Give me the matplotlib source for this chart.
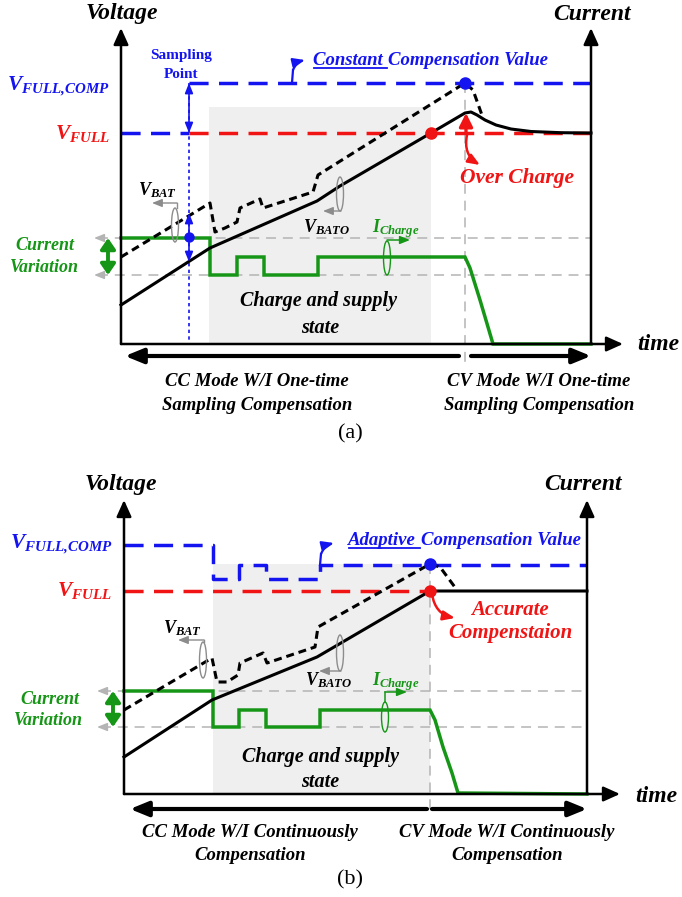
import matplotlib
matplotlib.use("Agg")
import matplotlib.pyplot as plt
from matplotlib.patches import FancyArrowPatch, Ellipse, Rectangle

plt.rcParams["font.family"] = ["Liberation Serif", "DejaVu Serif"]
plt.rcParams["mathtext.fontset"] = "custom"
plt.rcParams["mathtext.it"] = "Liberation Serif:bold:italic"
plt.rcParams["mathtext.rm"] = "Liberation Serif:bold:italic"
plt.rcParams["mathtext.bf"] = "Liberation Serif:bold:italic"

# ---------------- waveform data (time, level) ----------------
# (a) one-time sampling compensation
A_T_BATO = [0, 89, 196, 219, 310, 344, 350, 356, 364, 375, 390, 410, 440, 470]
A_V_BATO = [39, 96, 143, 158, 211, 231, 232, 229, 224, 219, 215, 212.5, 211.3, 211]
A_T_BAT = [0, 89, 94, 104, 116, 119, 139, 142, 192, 197, 344, 352, 362]
A_V_BAT = [87, 141, 112, 116, 122, 136, 145, 136, 152, 169, 261, 254, 226]
A_T_ICHG = [0, 89, 89, 116, 116, 143, 143, 197, 197, 344, 349, 359, 367, 372, 470]
A_I_CHG = [106, 106, 69, 69, 87, 87, 69, 69, 87, 87, 76, 44, 17, 0, 0]
A_V_FULL = 211
A_V_COMP = 261
A_T_SAMPLE = 68
A_T_CV = 344
A_I_LEVELS = [106, 69]

# (b) continuous compensation
B_T_BATO = [0, 88, 193, 306, 463]
B_V_BATO = [37, 94, 137, 203, 203]
B_T_BAT = [0, 88, 93, 103, 114, 116, 139, 143, 191, 194, 306, 316, 333]
B_V_BAT = [84, 136, 112, 112, 119, 131, 141, 131, 147, 167, 230, 227, 204]
B_T_ICHG = [0, 89, 89, 115, 115, 142, 142, 196, 196, 306, 311, 319, 328, 334, 463]
B_I_CHG = [103, 103, 67, 67, 84, 84, 67, 67, 84, 84, 74, 47, 21, 1, 0]
B_T_COMP = [0, 89, 89, 115, 115, 142, 142, 196, 196, 463]
B_V_COMP = [249, 249, 215, 215, 229, 229, 215, 215, 229, 229]
B_V_FULL = 203
B_T_CV = 306
B_I_LEVELS = [103, 67]

BLUE = "#1414f0"
RED = "#f01414"
GREEN = "#169616"
GRAY = "#b4b4b4"
RING = "#8c8c8c"
SHADE = "#efefef"
BLACK = "#000000"

LBL_COMP = r"$V_{FULL{,}COMP}$"
LBL_FULL = r"$V_{FULL}$"

fig = plt.figure(figsize=(6.82, 8.97), dpi=100)
ax_a = fig.add_axes([0, 449 / 897, 1, 448 / 897])
ax_a.set_xlim(-121, 561)
ax_a.set_ylim(-104, 344)
ax_b = fig.add_axes([0, 0, 1, 449 / 897])
ax_b.set_xlim(-124, 558)
ax_b.set_ylim(-103, 346)
for ax in (ax_a, ax_b):
    ax.axis("off")

BI = dict(fontweight="bold", fontstyle="italic")


def arrow(ax, p0, p1, color, lw, style="-|>", hl=1.0, hw=0.4, ms=10, rad=0.0, z=5):
    st = f"{style},head_length={hl},head_width={hw}"
    ax.add_patch(FancyArrowPatch(p0, p1, arrowstyle=st, mutation_scale=ms,
                                 color=color, lw=lw, shrinkA=0, shrinkB=0,
                                 connectionstyle=f"arc3,rad={rad}", zorder=z))


def frame(ax, x_right, y_top, x_time):
    arrow(ax, (0, 0), (0, y_top), BLACK, 1.8, ms=10, hw=0.45, z=7)
    arrow(ax, (x_right, 0), (x_right, y_top), BLACK, 1.8, ms=10, hw=0.45, z=7)
    arrow(ax, (0, 0), (x_time, 0), BLACK, 1.8, ms=10, hw=0.45, z=7)


def guides(ax, levels, x_right, x_arrow):
    for lv in levels:
        ax.plot([x_arrow + 4, x_right], [lv, lv], color=GRAY, lw=1.1,
                dashes=(6.5, 4.5), zorder=1)
        arrow(ax, (x_arrow + 10, lv), (x_arrow, lv), GRAY, 1.1, ms=6, z=1)


def underlined(ax, x, y, first, rest, color, size):
    t1 = ax.text(x, y, first, color=color, fontsize=size, ha="left",
                 va="baseline", **BI)
    fig.canvas.draw()
    bb = t1.get_window_extent()
    inv = ax.transData.inverted()
    (x0, _), (x1, _) = inv.transform([[bb.x0, bb.y0], [bb.x1, bb.y1]])
    ax.text(x1, y, rest, color=color, fontsize=size, ha="left",
            va="baseline", **BI)
    ax.plot([x0 + 1, x1 - 1], [y - 3, y - 3], color=color, lw=1.3)


def ring(ax, xy, h, color, w=7):
    ax.add_patch(Ellipse(xy, w, h, fill=False, ec=color, lw=1.0, zorder=6))


def hook(ax, base, top, tip, color):
    # short rise off the dashed level, then a small arrow bending to the label
    ax.plot([base[0], top[0]], [base[1], top[1]], color=color, lw=1.6, zorder=8)
    arrow(ax, top, tip, color, 1.6, ms=7, rad=-0.25, z=8)


# ====================== panel (a) ======================
ax = ax_a
ax.add_patch(Rectangle((88, 0), 310 - 88, 237, color=SHADE, lw=0, zorder=0))
guides(ax, A_I_LEVELS, 470, -27)
ax.plot([A_T_CV, A_T_CV], [A_V_COMP, -18], color=GRAY, lw=1.1,
        dashes=(6.5, 4.5), zorder=1)
ax.plot([A_T_SAMPLE, A_T_SAMPLE], [A_V_COMP, 0], color=BLUE, lw=1.2,
        dashes=(2, 2), zorder=2)

ax.plot([0, A_T_SAMPLE], [A_V_FULL, A_V_FULL], color=BLUE, lw=2.5,
        dashes=(5.5, 3), zorder=2)
ax.plot([A_T_SAMPLE, 470], [A_V_FULL, A_V_FULL], color=RED, lw=2.5,
        dashes=(5.5, 3), zorder=2)
ax.plot([A_T_SAMPLE, 470], [A_V_COMP, A_V_COMP], color=BLUE, lw=2.5,
        dashes=(5.5, 3), zorder=2)

ax.plot(A_T_ICHG, A_I_CHG, color=GREEN, lw=2.5, zorder=3, solid_joinstyle="miter")
ax.plot(A_T_BATO, A_V_BATO, color=BLACK, lw=2.2, zorder=3)
ax.plot(A_T_BAT, A_V_BAT, color=BLACK, lw=2.2, dashes=(2.6, 1.6), zorder=3)

frame(ax, 470, 316, 502)

ax.plot(A_T_CV, A_V_COMP, "o", color=BLUE, ms=8, zorder=8)
ax.plot(310, A_V_FULL, "o", color=RED, ms=8, zorder=8)
ax.plot(A_T_SAMPLE, 107, "o", color=BLUE, ms=6.5, zorder=8)
arrow(ax, (A_T_SAMPLE, A_V_FULL), (A_T_SAMPLE, A_V_COMP), BLUE, 1.2,
      "<|-|>", ms=6, z=8)
arrow(ax, (A_T_SAMPLE, 82), (A_T_SAMPLE, 131), BLUE, 1.2, "<|-|>", ms=6, z=8)
arrow(ax, (-13, 69), (-13, 106), GREEN, 2.8, "<|-|>", hl=0.8, hw=0.55, ms=8, z=8)

# V_BAT / V_BATO / I_charge markers
ring(ax, (54, 119), 34, RING)
ax.plot([56, 56], [136, 141], color=RING, lw=1.0)
arrow(ax, (56, 141), (31, 141), RING, 1.0, ms=6, z=6)
ax.text(17, 149, r"$V_{BAT}$", fontsize=13, ha="left", va="baseline")
ring(ax, (219, 150), 34, RING)
arrow(ax, (220, 133), (202, 133), RING, 1.0, ms=6, z=6)
ax.text(182, 112, r"$V_{BATO}$", fontsize=13, ha="left", va="baseline")
ring(ax, (266, 86), 34, GREEN)
arrow(ax, (266, 104), (289, 104), GREEN, 1.1, ms=6, z=6)
ax.text(251, 112, r"$I_{Charge}$", fontsize=13, color=GREEN, ha="left",
        va="baseline")

# red over-charge arrows
arrow(ax, (A_T_CV + 1, A_V_FULL), (A_T_CV + 1, 231), RED, 2.4, ms=8, hw=0.5, z=8)
arrow(ax, (A_T_CV + 2, A_V_FULL - 2), (359, 179), RED, 1.8, ms=7, rad=0.35, z=8)
ax.text(396, 166, "Over Charge", color=RED, fontsize=15.5, ha="center",
        va="center", **BI)

# blue compensation value annotation
hook(ax, (171, A_V_COMP), (172, 274), (184, 284), BLUE)
underlined(ax, 192, 279, "Constant ", "Compensation Value", BLUE, 13.5)

# texts
ax.text(1, 330, "Voltage", fontsize=17, ha="center", va="center", **BI)
ax.text(471, 330, "Current", fontsize=17, ha="center", va="center", **BI)
ax.text(516, -1, "time", fontsize=17, ha="left", va="center", **BI)
ax.text(-11, 253, LBL_COMP, fontsize=15.5, color=BLUE, ha="right",
        va="baseline")
ax.text(-11, 205, LBL_FULL, fontsize=15.5, color=RED, ha="right",
        va="baseline")
ax.text(60, 289, "Sampling", fontsize=11, color=BLUE, fontweight="bold",
        ha="center", va="center")
ax.text(60, 270, "Point", fontsize=11, color=BLUE, fontweight="bold",
        ha="center", va="center")
ax.text(-76, 99, "Current", fontsize=13, color=GREEN, ha="center",
        va="center", **BI)
ax.text(-77, 77, "Variation", fontsize=13, color=GREEN, ha="center",
        va="center", **BI)
ax.text(198, 43, "Charge and supply", fontsize=14.5, ha="center",
        va="center", **BI)
ax.text(199, 16, "state", fontsize=14.5, ha="center", va="center", **BI)

arrow(ax, (338, -12), (4, -12), BLACK, 3, ms=10, hl=1.1, hw=0.45, z=7)
arrow(ax, (350, -12), (470, -12), BLACK, 3, ms=10, hl=1.1, hw=0.45, z=7)
ax.text(136, -37, "CC Mode W/I One-time", fontsize=13.5, ha="center",
        va="center", **BI)
ax.text(136, -62, "Sampling Compensation", fontsize=13.5, ha="center",
        va="center", **BI)
ax.text(418, -37, "CV Mode W/I One-time", fontsize=13.5, ha="center",
        va="center", **BI)
ax.text(418, -62, "Sampling Compensation", fontsize=13.5, ha="center",
        va="center", **BI)
ax.text(229, -90, "(a)", fontsize=16, ha="center", va="center")

# ====================== panel (b) ======================
ax = ax_b
ax.add_patch(Rectangle((89, 0), B_T_CV - 89, 230, color=SHADE, lw=0, zorder=0))
guides(ax, B_I_LEVELS, 463, -27)
ax.plot([B_T_CV, B_T_CV], [230, -18], color=GRAY, lw=1.1,
        dashes=(6.5, 4.5), zorder=1)

ax.plot(B_T_COMP, B_V_COMP, color=BLUE, lw=2.5, dashes=(5.5, 3), zorder=2)
ax.plot([0, B_T_CV], [B_V_FULL, B_V_FULL], color=RED, lw=2.5,
        dashes=(5.5, 3), zorder=2)

ax.plot(B_T_ICHG, B_I_CHG, color=GREEN, lw=2.5, zorder=3, solid_joinstyle="miter")
ax.plot(B_T_BATO, B_V_BATO, color=BLACK, lw=2.2, zorder=3)
ax.plot(B_T_BAT, B_V_BAT, color=BLACK, lw=2.2, dashes=(2.6, 1.6), zorder=3)

frame(ax, 463, 294, 496)

ax.plot(B_T_CV, 230, "o", color=BLUE, ms=8, zorder=8)
ax.plot(B_T_CV, B_V_FULL, "o", color=RED, ms=8, zorder=8)
arrow(ax, (-11, 67), (-11, 103), GREEN, 2.8, "<|-|>", hl=0.8, hw=0.55, ms=8, z=8)

ring(ax, (79, 134), 36, RING)
ax.plot([80, 80], [152, 154], color=RING, lw=1.0)
arrow(ax, (80, 154), (54, 154), RING, 1.0, ms=6, z=6)
ax.text(39, 161, r"$V_{BAT}$", fontsize=13, ha="left", va="baseline")
ring(ax, (216, 141), 36, RING)
arrow(ax, (217, 123), (195, 123), RING, 1.0, ms=6, z=6)
ax.text(181, 109, r"$V_{BATO}$", fontsize=13, ha="left", va="baseline")
ring(ax, (261, 77), 30, GREEN)
arrow(ax, (261, 102), (283, 102), GREEN, 1.1, ms=6, z=6)
ax.plot([261, 261], [92, 102], color=GREEN, lw=1.1, zorder=6)
ax.text(248, 109, r"$I_{Charge}$", fontsize=13, color=GREEN, ha="left",
        va="baseline")

arrow(ax, (B_T_CV + 2, B_V_FULL - 3), (331, 176), RED, 1.8, ms=7, rad=0.35, z=8)
ax.text(386, 184, "Accurate", color=RED, fontsize=15, ha="center",
        va="center", **BI)
ax.text(386, 161, "Compenstaion", color=RED, fontsize=15, ha="center",
        va="center", **BI)

hook(ax, (196, 229), (197, 240), (210, 251), BLUE)
underlined(ax, 224, 249, "Adaptive ", "Compensation Value", BLUE, 13.5)

ax.text(-3, 310, "Voltage", fontsize=17, ha="center", va="center", **BI)
ax.text(459, 310, "Current", fontsize=17, ha="center", va="center", **BI)
ax.text(511, -2, "time", fontsize=17, ha="left", va="center", **BI)
ax.text(-11, 245, LBL_COMP, fontsize=15.5, color=BLUE, ha="right",
        va="baseline")
ax.text(-12, 198, LBL_FULL, fontsize=15.5, color=RED, ha="right",
        va="baseline")
ax.text(-74, 95, "Current", fontsize=13, color=GREEN, ha="center",
        va="center", **BI)
ax.text(-76, 74, "Variation", fontsize=13, color=GREEN, ha="center",
        va="center", **BI)
ax.text(196, 37, "Charge and supply", fontsize=14.5, ha="center",
        va="center", **BI)
ax.text(196, 12, "state", fontsize=14.5, ha="center", va="center", **BI)

arrow(ax, (303, -15), (6, -15), BLACK, 3, ms=10, hl=1.1, hw=0.45, z=7)
arrow(ax, (308, -15), (463, -15), BLACK, 3, ms=10, hl=1.1, hw=0.45, z=7)
ax.text(126, -38, "CC Mode W/I Continuously", fontsize=13.5, ha="center",
        va="center", **BI)
ax.text(126, -61, "Compensation", fontsize=13.5, ha="center", va="center", **BI)
ax.text(383, -38, "CV Mode W/I Continuously", fontsize=13.5, ha="center",
        va="center", **BI)
ax.text(383, -61, "Compensation", fontsize=13.5, ha="center", va="center", **BI)
ax.text(226, -86, "(b)", fontsize=16, ha="center", va="center")

fig.savefig("out.png", dpi=100)
